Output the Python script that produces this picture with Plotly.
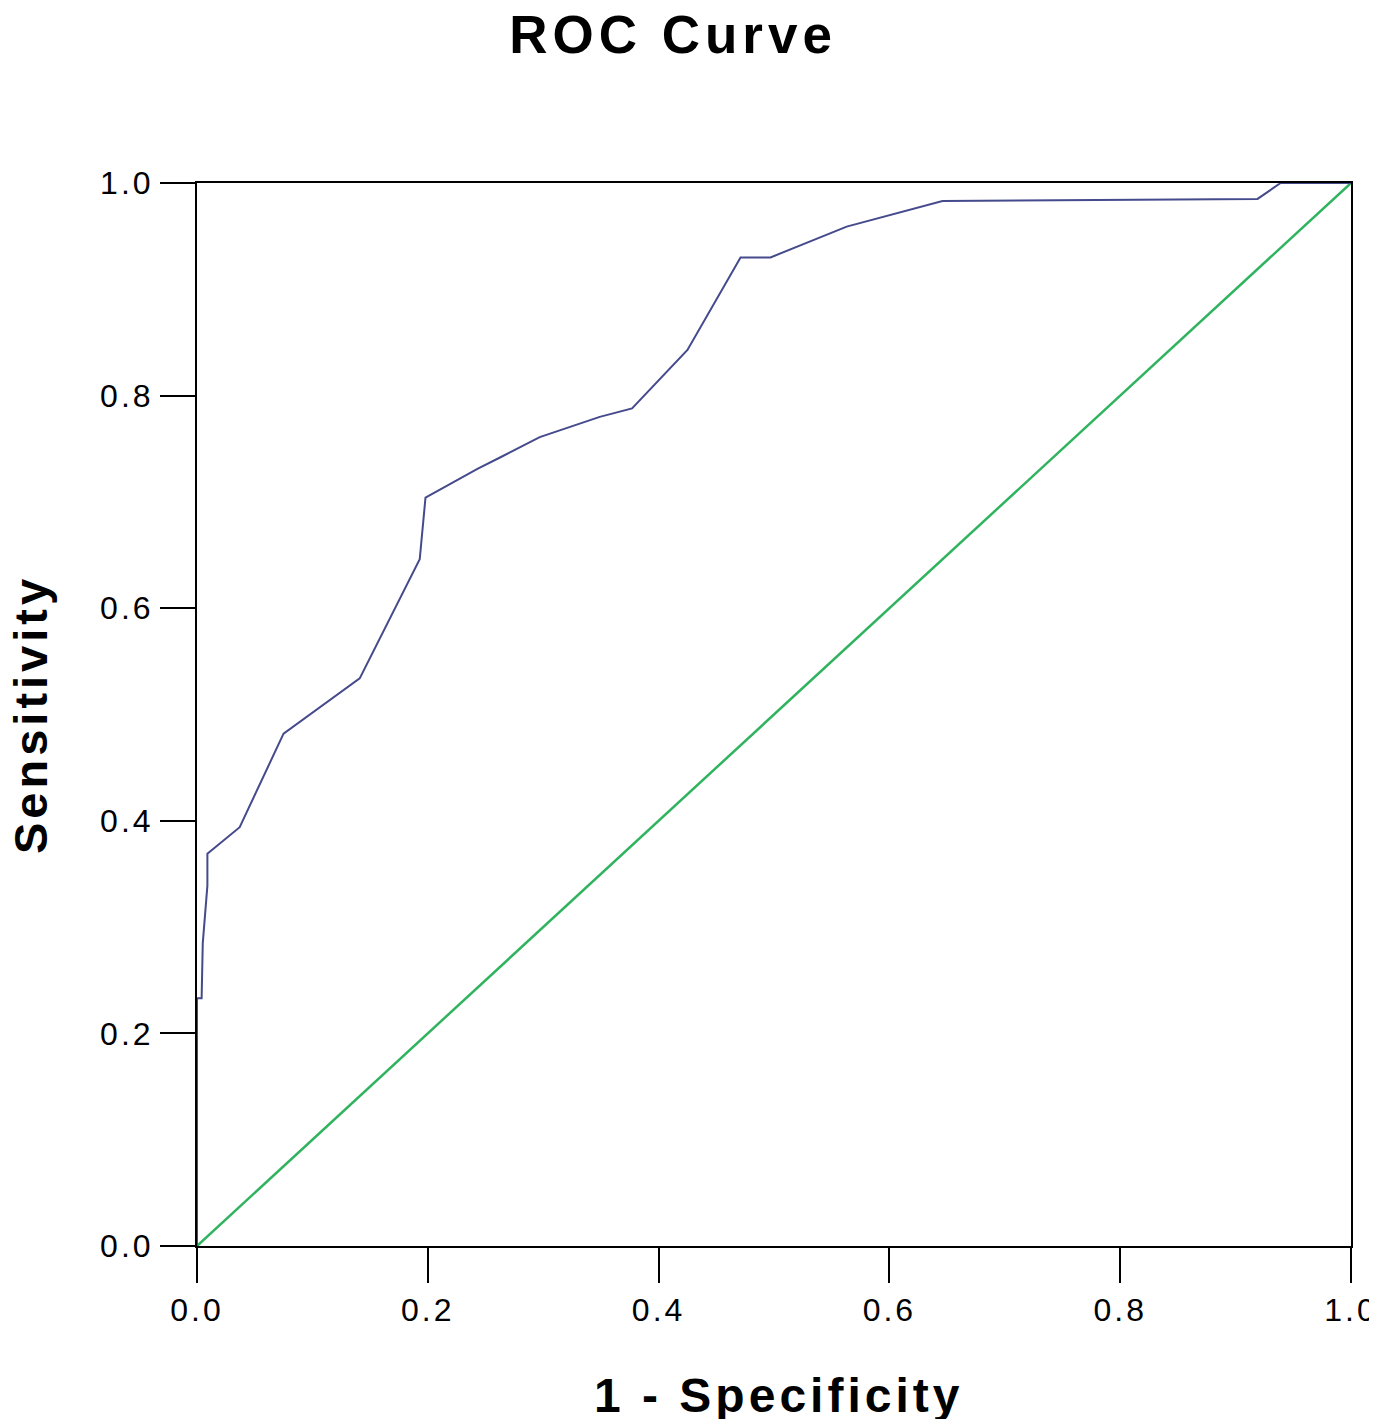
import plotly.graph_objects as go

# ROC curve points (1 - Specificity, Sensitivity)
fpr = [0.0, 0.0, 0.004, 0.005, 0.009, 0.009, 0.037, 0.075, 0.141, 0.193, 0.198,
       0.243, 0.263, 0.297, 0.349, 0.377, 0.425, 0.471, 0.497, 0.563, 0.646,
       0.919, 0.939, 1.0]
tpr = [0.0, 0.233, 0.233, 0.285, 0.339, 0.369, 0.394, 0.482, 0.534, 0.646, 0.704,
       0.731, 0.742, 0.761, 0.780, 0.788, 0.843, 0.930, 0.930, 0.959, 0.983,
       0.985, 1.0, 1.0]

# Reference line
ref_x = [0.0, 1.0]
ref_y = [0.0, 1.0]

tick_vals = [0.0, 0.2, 0.4, 0.6, 0.8, 1.0]
tick_text = ["0.0", "0.2", "0.4", "0.6", "0.8", "1.0"]

title_text = "ROC Curve"
x_title = "1 - Specificity"
y_title = "Sensitivity"

# page body adds an 8px margin; figure laid out to compensate
W, H = 1361, 1411
L, R, T, B = 189, 18, 175, 173
PW = W - L - R
PH = H - T - B

def spaced(s, px):
    return '<span style="letter-spacing:%dpx">%s</span>' % (px, s)

fig = go.Figure()
fig.add_trace(go.Scatter(x=ref_x, y=ref_y, mode="lines",
                         line=dict(color="#2fb35f", width=2.5),
                         showlegend=False, cliponaxis=False))
fig.add_trace(go.Scatter(x=fpr, y=tpr, mode="lines",
                         line=dict(color="#454a8c", width=2),
                         showlegend=False, cliponaxis=False))

tick_font = dict(family="Liberation Sans Narrow, Liberation Sans, Arial", size=32, color="black")
axis_common = dict(range=[0, 1], tickvals=tick_vals,
                   ticktext=[spaced(t, 3) for t in tick_text],
                   ticks="outside", ticklen=35, tickwidth=2, tickcolor="black",
                   showline=True, linecolor="black", linewidth=2, mirror=True,
                   showgrid=False, zeroline=False, tickfont=tick_font,
                   ticklabeloverflow="allow", automargin=False, fixedrange=True)

fig.update_layout(
    width=W, height=H,
    margin=dict(l=L, r=R, t=T, b=B),
    paper_bgcolor="white", plot_bgcolor="white",
    xaxis=dict(**axis_common, ticklabelstandoff=0),
    yaxis=dict(**axis_common, ticklabelstandoff=0),
    title=dict(text=spaced(title_text, 5), x=665/W, xref="container", xanchor="center",
               y=1 - 26/H, yref="container", yanchor="middle",
               font=dict(family="Liberation Sans, Arial", size=53, color="black", weight="bold")),
    annotations=[
        dict(text=spaced(x_title, 4), xref="paper", yref="paper", x=(770-L)/PW, y=(T+PH-1387)/PH,
             xanchor="center", yanchor="middle", showarrow=False,
             font=dict(family="Liberation Sans, Arial", size=48, color="black", weight="bold")),
        dict(text=spaced(y_title, 4), xref="paper", yref="paper", x=(22-L)/PW, y=(T+PH-707)/PH,
             xanchor="center", yanchor="middle", showarrow=False, textangle=-90,
             font=dict(family="Liberation Sans, Arial", size=47, color="black", weight="bold")),
    ],
)

fig.write_html("out.html")
